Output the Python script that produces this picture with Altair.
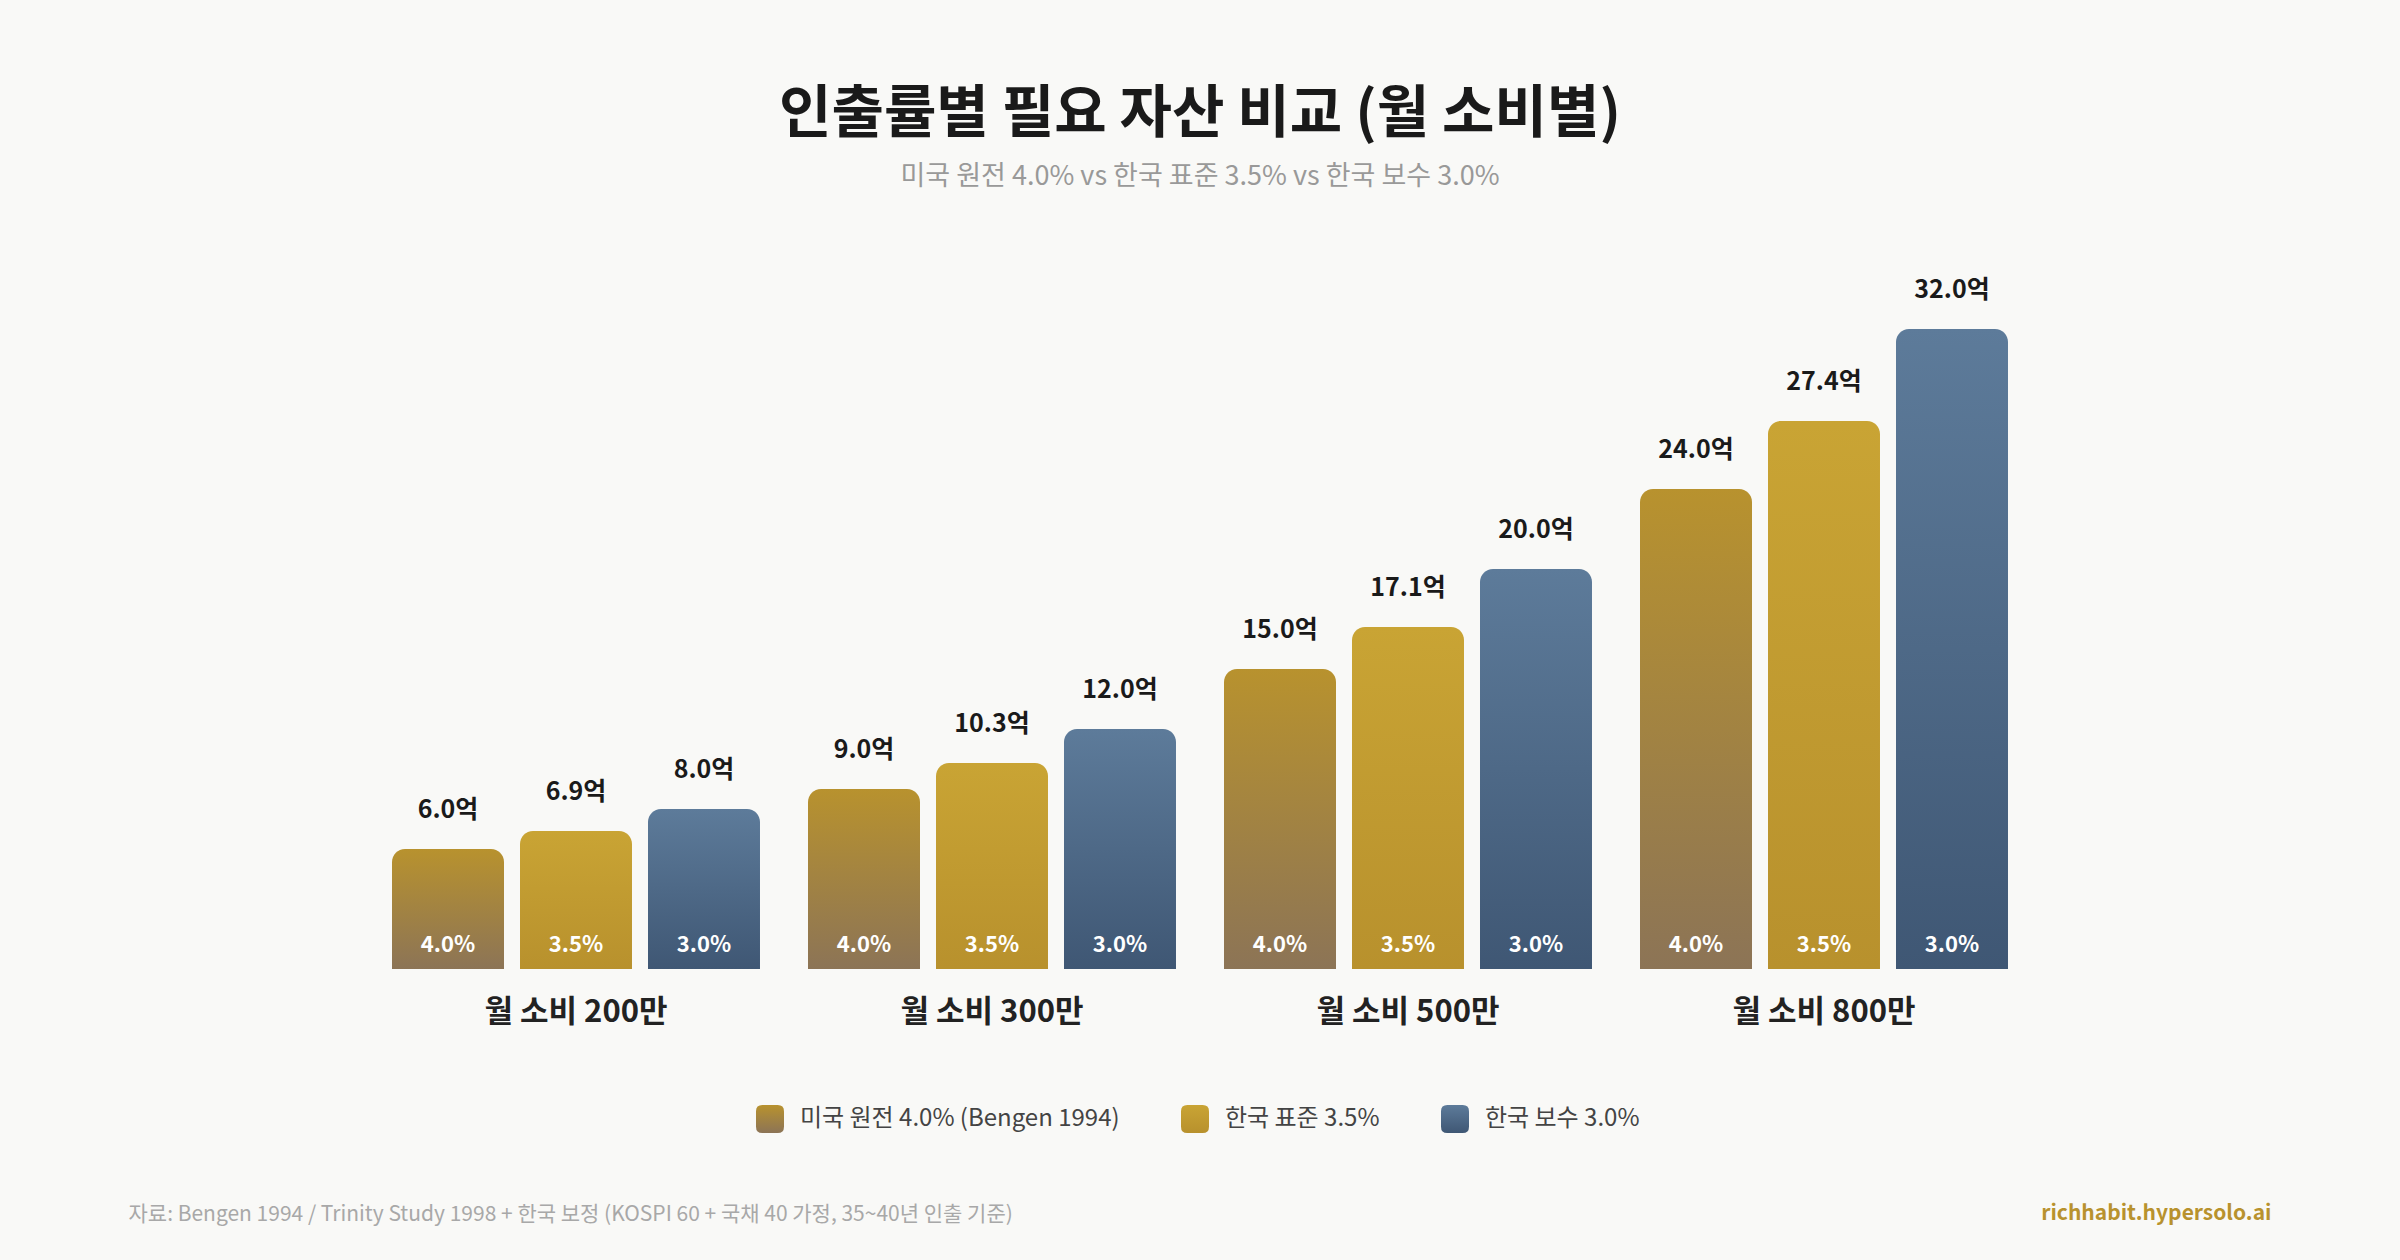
import altair as alt
import pandas as pd

FONT = "Noto Sans CJK KR"

# Monthly spending groups and withdrawal-rate series
categories = ["월 소비 200만", "월 소비 300만", "월 소비 500만", "월 소비 800만"]
series = ["미국 원전 4.0% (Bengen 1994)", "한국 표준 3.5%", "한국 보수 3.0%"]
rates = ["4.0%", "3.5%", "3.0%"]

# Required assets (억 원) per spending group, one list per withdrawal rate
values_us_4 = [6.0, 9.0, 15.0, 24.0]
values_kr_35 = [6.9, 10.3, 17.1, 27.4]
values_kr_30 = [8.0, 12.0, 20.0, 32.0]

# Vertical gradient colours (top -> bottom) for each series
top_colors = ["#b8922e", "#c9a434", "#5d7b9a"]
bottom_colors = ["#8c7456", "#b8912d", "#3f5774"]

rows = []
for s, r, vals in zip(series, rates, [values_us_4, values_kr_35, values_kr_30]):
    for c, v in zip(categories, vals):
        rows.append({"category": c, "series": s, "rate": r, "value": v,
                     "label": f"{v:.1f}억"})
df = pd.DataFrame(rows)


def gradient_expr(top, bottom):
    return {
        "expr": "{gradient: 'linear', x1: 0, y1: 0, x2: 0, y2: 1, stops: ["
        f"{{offset: 0, color: '{top}'}}, {{offset: 1, color: '{bottom}'}}]}}"
    }


color_range = [gradient_expr(t, b) for t, b in zip(top_colors, bottom_colors)]

# Rounded square used for the legend swatches
ROUND_SQUARE = ("M -1 -0.55 Q -1 -1 -0.55 -1 L 0.55 -1 Q 1 -1 1 -0.55 "
                "L 1 0.55 Q 1 1 0.55 1 L -0.55 1 Q -1 1 -1 0.55 Z")

x_enc = alt.X(
    "category:N", sort=categories,
    scale=alt.Scale(paddingInner=0.1154, paddingOuter=0.0577),
    axis=alt.Axis(
        title="자료: Bengen 1994 / Trinity Study 1998 + 한국 보정 (KOSPI 60 + 국채 40 가정, 35~40년 인출 기준)",
        labelAngle=0, labelFontSize=31, labelFontWeight="bold", labelColor="#222222",
        labelPadding=28, labelLimit=0, domain=False, ticks=False,
        titleX=-240, titleY=245, titleAlign="left", titleBaseline="middle",
        titleFontSize=21, titleFontWeight="normal", titleColor="#a8a8a8",
        titleLimit=0,
    ),
)
xoff_enc = alt.XOffset("series:N", sort=series,
                       scale=alt.Scale(paddingInner=0.125, paddingOuter=0))

y_scale = alt.Scale(domain=[0, 36], nice=False, zero=True)
y_axis = alt.Axis(
    orient="right", labels=False, ticks=False, domain=False, grid=False,
    title="richhabit.hypersolo.ai", titleAngle=0, titleX=239, titleY=964,
    titleAlign="right", titleBaseline="middle", titleFontSize=21,
    titleFontWeight="bold", titleColor="#b8922e", titleLimit=0,
)

base = alt.Chart(df).encode(x=x_enc, xOffset=xoff_enc)

bars = base.mark_bar(cornerRadiusTopLeft=13, cornerRadiusTopRight=13).encode(
    y=alt.Y("value:Q", scale=y_scale, axis=y_axis),
    color=alt.Color(
        "series:N", sort=series,
        scale=alt.Scale(domain=series, range=color_range),
        legend=alt.Legend(
            title=None, orient="none", legendX=388, legendY=856,
            direction="horizontal", symbolType=ROUND_SQUARE, symbolSize=784,
            symbolStrokeWidth=0, labelFontSize=24, labelColor="#444444",
            labelFont=FONT, labelOffset=16, labelLimit=0, columnPadding=61,
            padding=0,
        ),
    ),
)

value_labels = base.mark_text(
    baseline="alphabetic", dy=-31, fontSize=25, fontWeight="bold", color="#1a1a1a"
).encode(y=alt.Y("value:Q", scale=y_scale, axis=y_axis), text="label:N")

rate_labels = base.mark_text(
    baseline="alphabetic", dy=-17, fontSize=22, fontWeight="bold", color="#ffffff"
).encode(y=alt.YDatum(0, scale=y_scale, axis=y_axis), text="rate:N")

chart = (
    alt.layer(bars, value_labels, rate_labels)
    .properties(
        width=1664, height=720,
        padding={"left": 368, "top": 249, "right": 368, "bottom": 291},
        autosize=alt.AutoSizeParams(type="none"),
        title=alt.Title(
            text="인출률별 필요 자산 비교 (월 소비별)",
            subtitle="미국 원전 4.0% vs 한국 표준 3.5% vs 한국 보수 3.0%",
            fontSize=57, fontWeight="bold", color="#1a1a1a", font=FONT,
            subtitleFont=FONT, subtitleFontSize=27, subtitleColor="#999999",
            subtitlePadding=20, anchor="middle", offset=58,
        ),
    )
    .configure(font=FONT, background="#f9f9f7")
    .configure_view(stroke=None)
)

chart.save("out.html", embed_options={"renderer": "svg", "actions": False})
